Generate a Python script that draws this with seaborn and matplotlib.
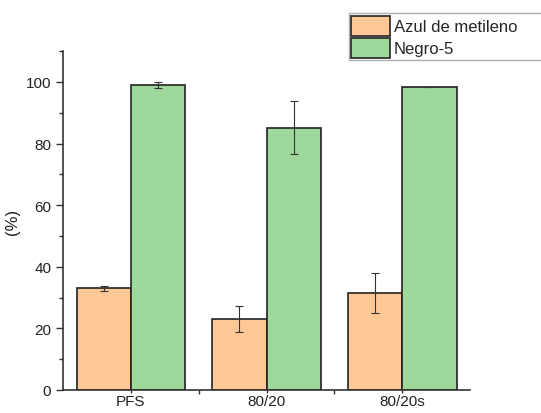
import numpy as np
import pandas as pd
import matplotlib
matplotlib.use("Agg")
import matplotlib.pyplot as plt
from matplotlib.ticker import MultipleLocator
import seaborn as sns

categories = ["PFS", "80/20", "80/20s"]
series = ["Azul de metileno", "Negro-5"]
azul = [33.0, 23.0, 31.5]
azul_err = [0.8, 4.2, 6.5]
negro = [99.0, 85.2, 98.3]
negro_err = [1.0, 8.5, 0.0]

colors = ["#FDC896", "#9ED89B"]

df = pd.DataFrame({
    "cat": categories * 2,
    "serie": [series[0]] * 3 + [series[1]] * 3,
    "val": azul + negro,
    "err": azul_err + negro_err,
})

sns.set_theme(style="ticks")
plt.rcParams["font.family"] = ["Liberation Sans", "DejaVu Sans"]

fig = plt.figure(figsize=(5.41, 4.14), dpi=100)
ax = fig.add_axes([0.1165, 0.0556, 0.7525, 0.8184])

sns.barplot(data=df, x="cat", y="val", hue="serie", order=categories,
            hue_order=series, palette=colors, width=0.8, errorbar=None,
            edgecolor="#222222", linewidth=1.2, saturation=1, ax=ax)

for patch_group, s in zip(ax.containers, series):
    sub = df[df["serie"] == s].set_index("cat").loc[categories]
    xs = [p.get_x() + p.get_width() / 2 for p in patch_group]
    ax.errorbar(xs, sub["val"], yerr=sub["err"], fmt="none",
                ecolor="#333333", elinewidth=0.8, capsize=3, capthick=0.8)

ax.set_xlim(-0.5, 2.5)
ax.set_ylim(0, 110)
ax.yaxis.set_major_locator(MultipleLocator(20))
ax.yaxis.set_minor_locator(MultipleLocator(10))
ax.set_xticks([0.5, 1.5], minor=True)
ax.tick_params(axis="y", which="major", direction="out", length=5,
               width=1, colors="#333333", labelsize=11, labelcolor="#222222")
ax.tick_params(axis="x", which="major", direction="out", length=2, pad=1,
               width=1, colors="#333333", labelsize=11, labelcolor="#222222")
ax.tick_params(axis="y", which="minor", direction="out", length=3, width=1, colors="#333333")
ax.tick_params(axis="x", which="minor", direction="out", length=3, width=1, colors="#333333")
ax.set_xlabel("")
ax.set_ylabel("(%)", fontsize=12, color="#222222")
for side in ["top", "right"]:
    ax.spines[side].set_visible(False)
for side in ["left", "bottom"]:
    ax.spines[side].set_color("#333333")
    ax.spines[side].set_linewidth(1.2)

# legend box runs off the right edge, as in the original
ax.legend(loc="upper left", bbox_to_anchor=(0.645, 0.966, 0.36, 0), mode="expand",
          bbox_transform=fig.transFigure,
          fontsize=12, frameon=True, fancybox=False, edgecolor="#999999",
          handlelength=2.3, handleheight=1.5, handletextpad=0.25, borderpad=0.15,
          labelspacing=0.1, borderaxespad=0)

fig.savefig("out.png", dpi=100)
